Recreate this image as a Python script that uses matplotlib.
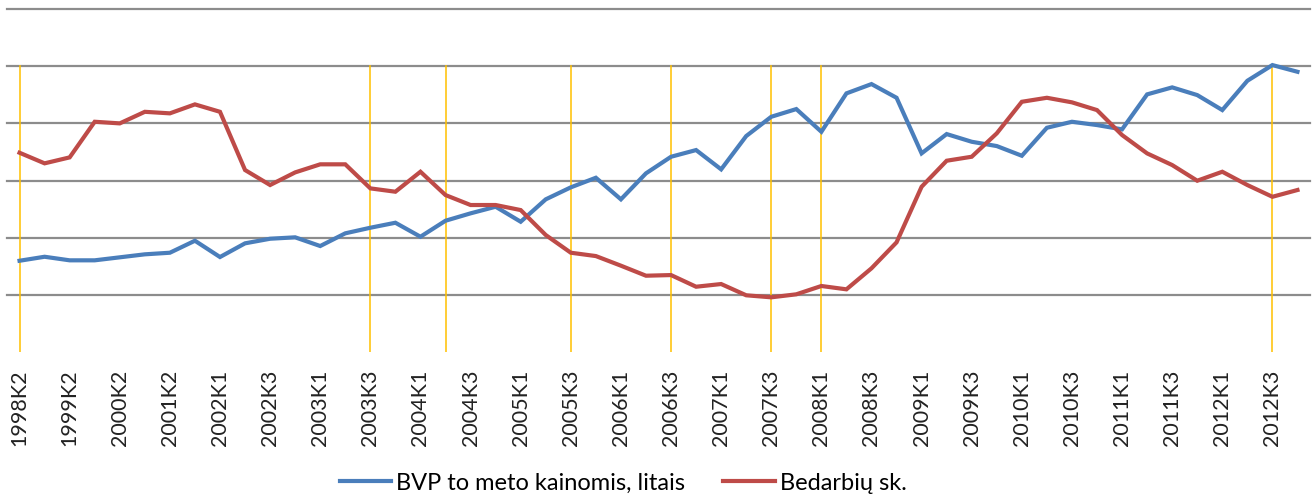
import matplotlib
matplotlib.use('Agg')
import matplotlib.pyplot as plt

plt.rcParams['font.family'] = ['Lato', 'DejaVu Sans']

# quarters (first years only every second quarter)
quarters = ['1998K2', '1998K4', '1999K2', '1999K4', '2000K2', '2000K4', '2001K2', '2001K4',
            '2002K1', '2002K2', '2002K3', '2002K4', '2003K1', '2003K2', '2003K3', '2003K4',
            '2004K1', '2004K2', '2004K3', '2004K4', '2005K1', '2005K2', '2005K3', '2005K4',
            '2006K1', '2006K2', '2006K3', '2006K4', '2007K1', '2007K2', '2007K3', '2007K4',
            '2008K1', '2008K2', '2008K3', '2008K4', '2009K1', '2009K2', '2009K3', '2009K4',
            '2010K1', '2010K2', '2010K3', '2010K4', '2011K1', '2011K2', '2011K3', '2011K4',
            '2012K1', '2012K2', '2012K3', '2012K4']

# GDP at current prices, mln. Lt
bvp = [9570, 9990, 9615, 9615, 9930, 10245, 10413, 11674,
       9961, 11401, 11884, 12032, 11117, 12452, 13040, 13566,
       12095, 13776, 14553, 15247, 13671, 16025, 17285, 18294,
       16025, 18757, 20501, 21205, 19177, 22676, 24704, 25513,
       23128, 27163, 28140, 26701, 20858, 22886, 22077, 21625,
       20606, 23548, 24179, 23832, 23380, 27058, 27793, 26984,
       25408, 28487, 30137, 29433]

# unemployed, thousands
bedarbiai = [244.1, 231.1, 238.4, 282.1, 280.1, 294.3, 292.4, 303.4,
             294.3, 222.9, 204.5, 220.0, 229.9, 229.9, 200.4, 196.3,
             220.8, 192.2, 180.0, 180.0, 173.8, 143.2, 121.5, 117.4,
             105.6, 93.3, 94.1, 79.8, 83.1, 69.3, 66.8, 70.5,
             80.7, 76.6, 102.4, 134.2, 202.4, 234.3, 239.2, 267.9,
             306.6, 311.5, 305.9, 296.4, 265.8, 243.3, 229.0, 209.8,
             220.8, 204.5, 190.1, 198.4]

# hand-drawn yellow markers
marked = ['1998K2', '2003K3', '2004K2', '2005K3', '2006K3', '2007K3', '2008K1', '2012K3']

fig = plt.figure(figsize=(13.16, 4.97), dpi=100)
ax = fig.add_axes([7 / 1316, 1 - 351.8 / 497, 1303 / 1316, 342.5 / 497])
ax2 = ax.twinx()

x = list(range(len(quarters)))

ax.set_xlim(-0.5, len(quarters) - 0.5)
ax.set_ylim(0, 36000)
ax2.set_ylim(0, 420)

for v in range(6000, 36001, 6000):
    ax.axhline(v, color='#8c8c8c', linewidth=1.6, zorder=1, clip_on=False)

for q in marked:
    ax.plot([quarters.index(q)] * 2, [0, 30000], color='#FFC000', linewidth=1.3,
            alpha=0.85, zorder=2)

l1, = ax.plot(x, bvp, color='#4A7EBB', linewidth=3, zorder=3,
              label='BVP to meto kainomis, litais', solid_joinstyle='miter')
l2, = ax2.plot(x, bedarbiai, color='#BE4B48', linewidth=3, zorder=3,
               label='Bedarbių sk.', solid_joinstyle='miter')

ax.set_xticks(x[::2])
ax.set_xticklabels(quarters[::2], rotation=90, fontsize=15.5, color='#222222')
ax.tick_params(axis='x', length=0, pad=13)
ax.set_yticks([])
ax2.set_yticks([])
for a in (ax, ax2):
    for s in a.spines.values():
        s.set_visible(False)

fig.legend(handles=[l1, l2], loc='center', bbox_to_anchor=(623 / 1316, 1 - 483 / 497),
           ncol=2, frameon=False, fontsize=17, handlelength=2.2,
           handletextpad=0.2, columnspacing=1.6)

fig.savefig('out.png', dpi=100)
